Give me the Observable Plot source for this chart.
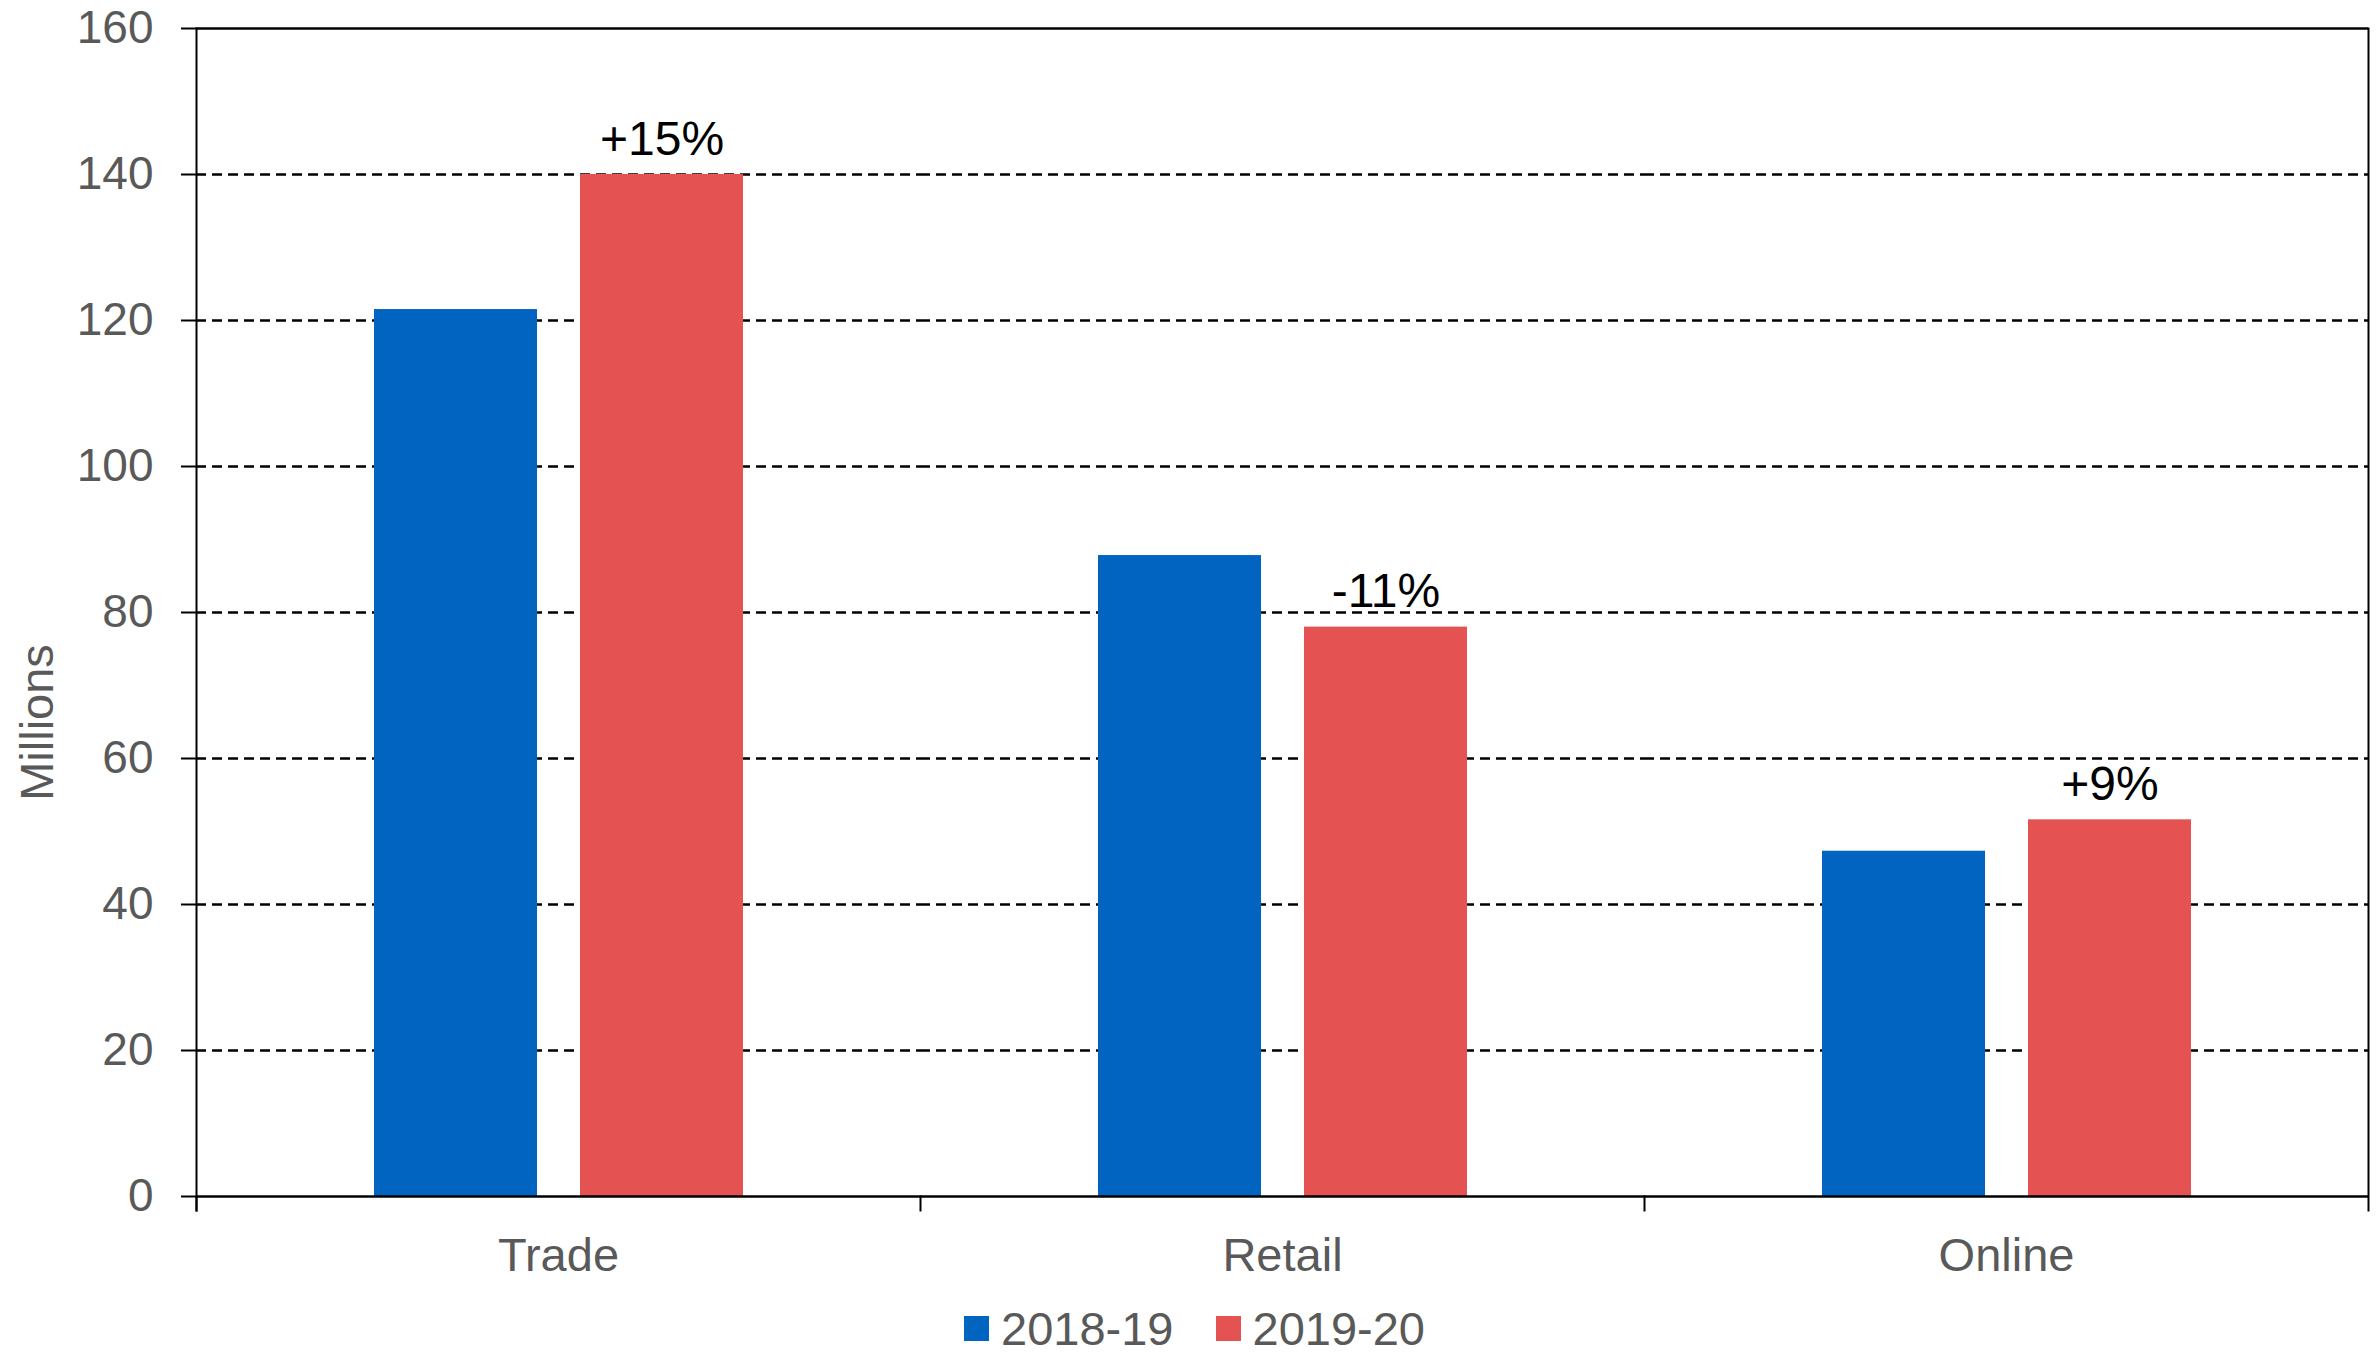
<!DOCTYPE html>
<html>
<head>
<meta charset="utf-8">
<script src="https://cdn.jsdelivr.net/npm/d3@7"></script>
<script src="https://cdn.jsdelivr.net/npm/@observablehq/plot@0.6"></script>
<style>
  html, body { margin: 0; padding: 0; background: #fff; }
  #chart { width: 2377px; }
  .legend {
    display: flex; justify-content: center; align-items: center;
    box-sizing: border-box; height: 63px; padding-top: 14px; padding-left: 12px;
    font-family: "Liberation Sans", Arial, sans-serif; font-size: 47px; line-height: 1;
    color: #595959; width: 2377px;
  }
  .legend .item { display: flex; align-items: center; margin: 0 21px; }
  .legend .sw { width: 25px; height: 25px; margin-right: 12px; display: inline-block; }
</style>
</head>
<body>
<div id="chart"></div>
<script>
// ---- data ----
const categories = ["Trade", "Retail", "Online"];
const seriesNames = ["2018-19", "2019-20"];
const values2018 = [121.5, 87.8, 47.3];
const values2019 = [140.0, 78.0, 51.6];
const changeLabels = ["+15%", "-11%", "+9%"];
const yTicks = [0, 20, 40, 60, 80, 100, 120, 140, 160];
const seriesColors = ["#0164C1", "#E45252"];
const yTitle = "Millions";

// ---- tables ----
const rows = categories.flatMap((c, i) => [
  {category: c, series: seriesNames[0], value: values2018[i]},
  {category: c, series: seriesNames[1], value: values2019[i]}
]);
const labelRows = categories.map((c, i) => ({category: c, series: seriesNames[1], value: values2019[i], label: changeLabels[i]}));

const W = 2377, H = 1290;
const mTop = 28, mBottom = 94, mLeft = 196, mRight = 9;
const plotH = H - mTop - mBottom;
const font = "'Liberation Sans', Arial, sans-serif";

const chart = Plot.plot({
  width: W, height: H,
  marginLeft: mLeft, marginRight: mRight, marginTop: mTop, marginBottom: mBottom,
  style: {fontFamily: font, background: "#fff"},
  fx: {domain: categories, padding: 0, label: null},
  x: {domain: seriesNames, paddingInner: 0.21, paddingOuter: 0.862, axis: null},
  y: {domain: [0, 160], label: null},
  color: {domain: seriesNames, range: seriesColors},
  marks: [
    Plot.gridY(yTicks.filter(t => t > 0 && t < 160), {stroke: "#000", strokeOpacity: 1, strokeWidth: 2.4, strokeDasharray: "10,6"}),
    Plot.barY(rows, {fx: "category", x: "series", y: "value", fill: "series"}),
    Plot.ruleY([0, 160], {stroke: "#000", strokeWidth: 2.4}),
    Plot.frame({anchor: "left", facetAnchor: "left", insetBottom: -14, stroke: "#000", strokeWidth: 2}),
    Plot.frame({anchor: "right", facetAnchor: "right", insetBottom: -14, stroke: "#000", strokeWidth: 2}),
    Plot.frame({anchor: "left", insetTop: plotH, insetBottom: -14, stroke: "#000", strokeWidth: 2}),
    Plot.axisY({ticks: yTicks, tickSize: 15, tickPadding: 28, stroke: "#000", strokeWidth: 2, fill: "#595959", fontSize: 46, label: null, tickFormat: d => String(d)}),
    Plot.axisFx({anchor: "bottom", tickSize: 0, tickPadding: 41, fill: "#595959", fontSize: 47, label: null}),
    Plot.text([yTitle], {frameAnchor: "left", facetAnchor: "left", text: d => d, textAnchor: "middle", rotate: -90, dx: -159, dy: 110, fontSize: 47, fill: "#595959"}),
    Plot.text(labelRows, {fx: "category", x: "series", y: "value", text: "label", dy: -20, lineAnchor: "bottom", fontSize: 48, fill: "#000"})
  ]
});
document.getElementById("chart").appendChild(chart);

// ---- legend ----
const legend = d3.select("body").append("div").attr("class", "legend");
seriesNames.forEach((s, i) => {
  const item = legend.append("div").attr("class", "item");
  item.append("span").attr("class", "sw").style("background", seriesColors[i]);
  item.append("span").text(s);
});
</script>
</body>
</html>
